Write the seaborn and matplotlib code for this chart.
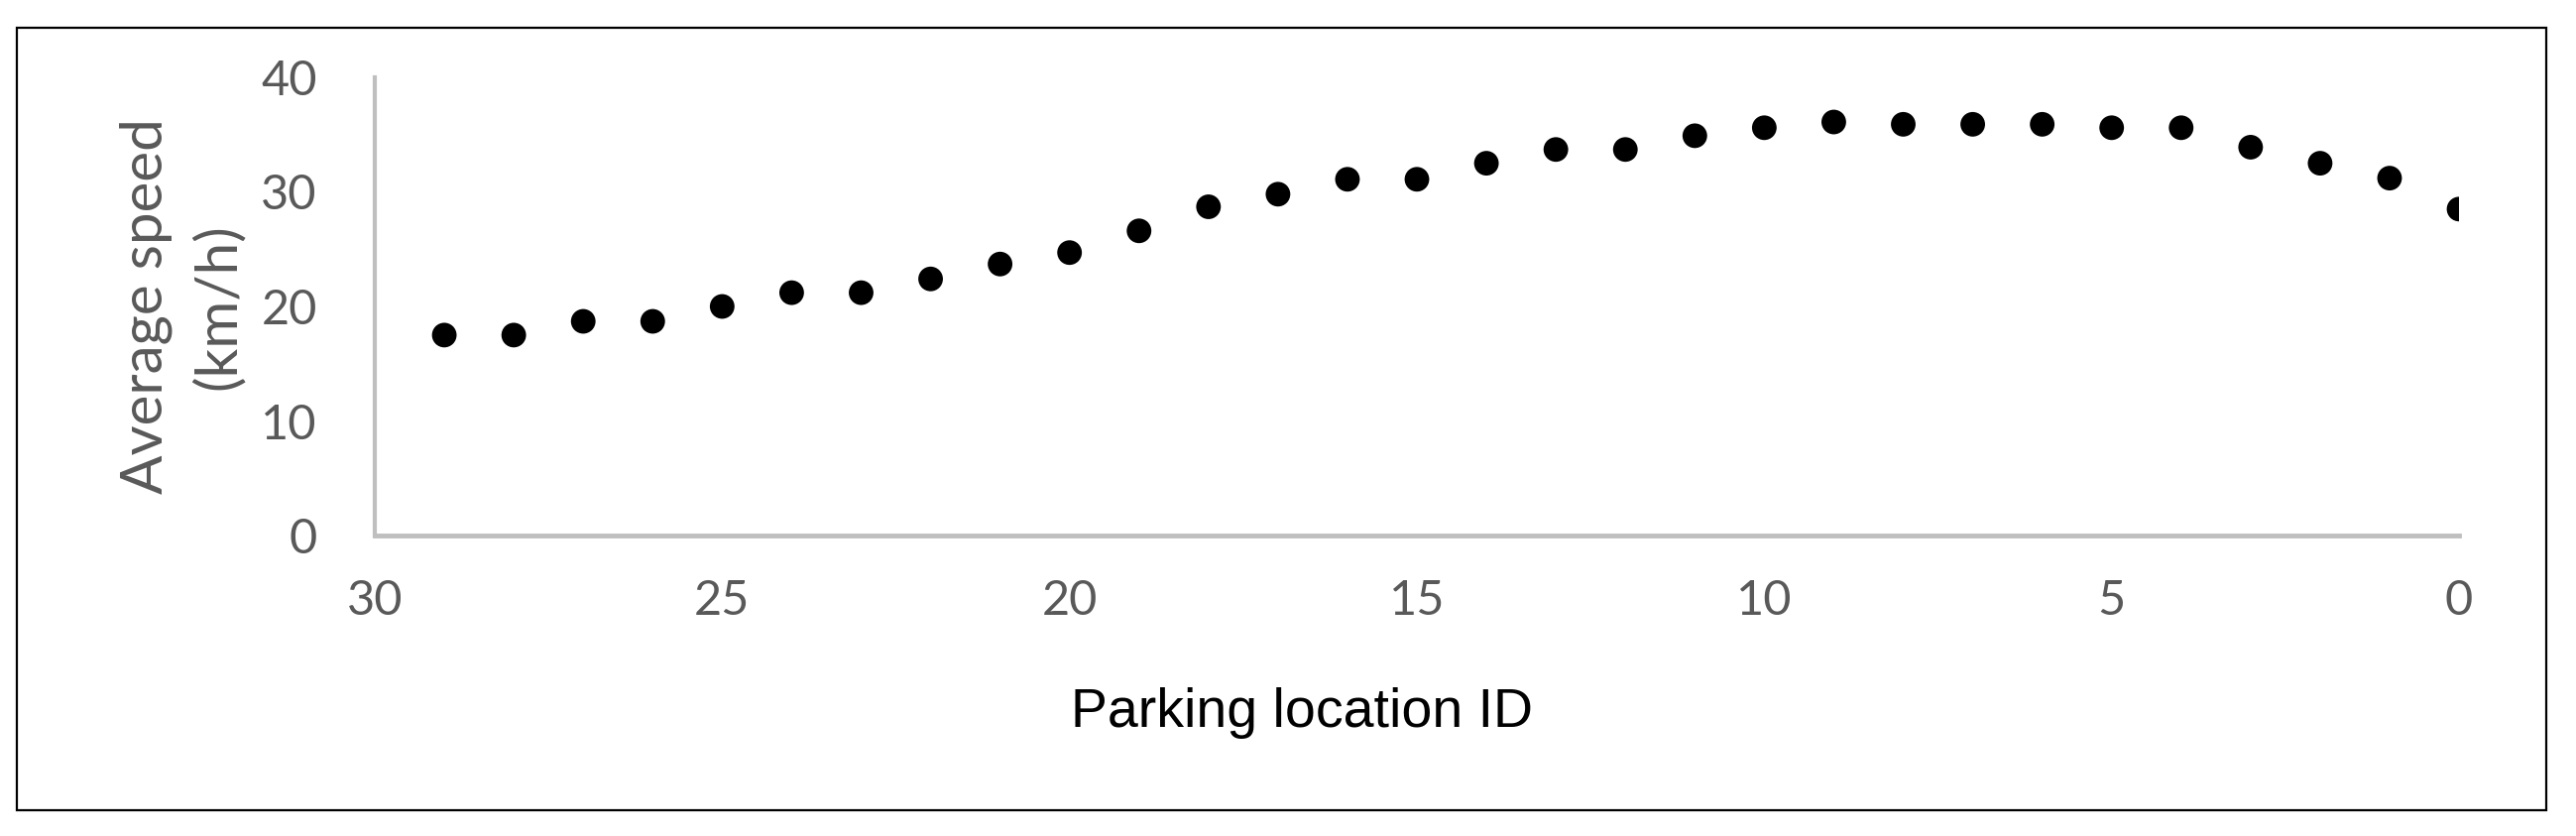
import matplotlib
matplotlib.use("Agg")
import matplotlib.pyplot as plt
import seaborn as sns
from matplotlib.patches import Rectangle

# Parking location IDs and their average speeds
location_id = [29, 28, 27, 26, 25, 24, 23, 22, 21, 20, 19, 18, 17, 16, 15,
               14, 13, 12, 11, 10, 9, 8, 7, 6, 5, 4, 3, 2, 1, 0]
avg_speed = [17.5, 17.5, 18.7, 18.7, 20.0, 21.2, 21.2, 22.4, 23.7, 24.7,
             26.6, 28.7, 29.8, 31.1, 31.1, 32.5, 33.7, 33.7, 34.9, 35.6,
             36.1, 35.9, 35.9, 35.9, 35.6, 35.6, 33.9, 32.5, 31.2, 28.5]
x_ticks = [30, 25, 20, 15, 10, 5, 0]
y_ticks = [0, 10, 20, 30, 40]

sns.set_style("white")
plt.rcParams['font.family'] = ['Lato', 'DejaVu Sans']

fig = plt.figure(figsize=(25.98, 8.43), dpi=100)
ax = fig.add_axes([0.1455, 0.3594, 0.8091, 0.5481])

sns.scatterplot(x=location_id, y=avg_speed, ax=ax, color="black", s=320,
                edgecolor="none", zorder=3)

ax.set_xlim(30, 0)
ax.set_ylim(0, 40)
ax.set_xticks(x_ticks)
ax.set_yticks(y_ticks)
ax.tick_params(axis="both", length=0, labelsize=35, labelcolor="#595959")
ax.tick_params(axis="x", pad=32)
ax.tick_params(axis="y", pad=42)

for side in ["top", "right"]:
    ax.spines[side].set_visible(False)
ax.spines["left"].set_color("#BFBFBF")
ax.spines["left"].set_linewidth(3.0)
ax.spines["bottom"].set_color("#BFBFBF")
ax.spines["bottom"].set_linewidth(3.5)

ax.set_ylabel("Average speed\n(km/h)", fontsize=42, color="#595959",
              linespacing=1.42, labelpad=12)
ax.set_xlabel("Parking location ID", fontsize=40,
              family=['Liberation Sans', 'DejaVu Sans'], color="black")
ax.xaxis.set_label_coords(0.445, -0.33)

# outer frame around the whole figure
fig.patches.append(Rectangle((0.0065, 0.031), 0.982, 0.936,
                             transform=fig.transFigure, fill=False,
                             edgecolor="black", linewidth=1.6))

fig.savefig("out.png", dpi=100)
